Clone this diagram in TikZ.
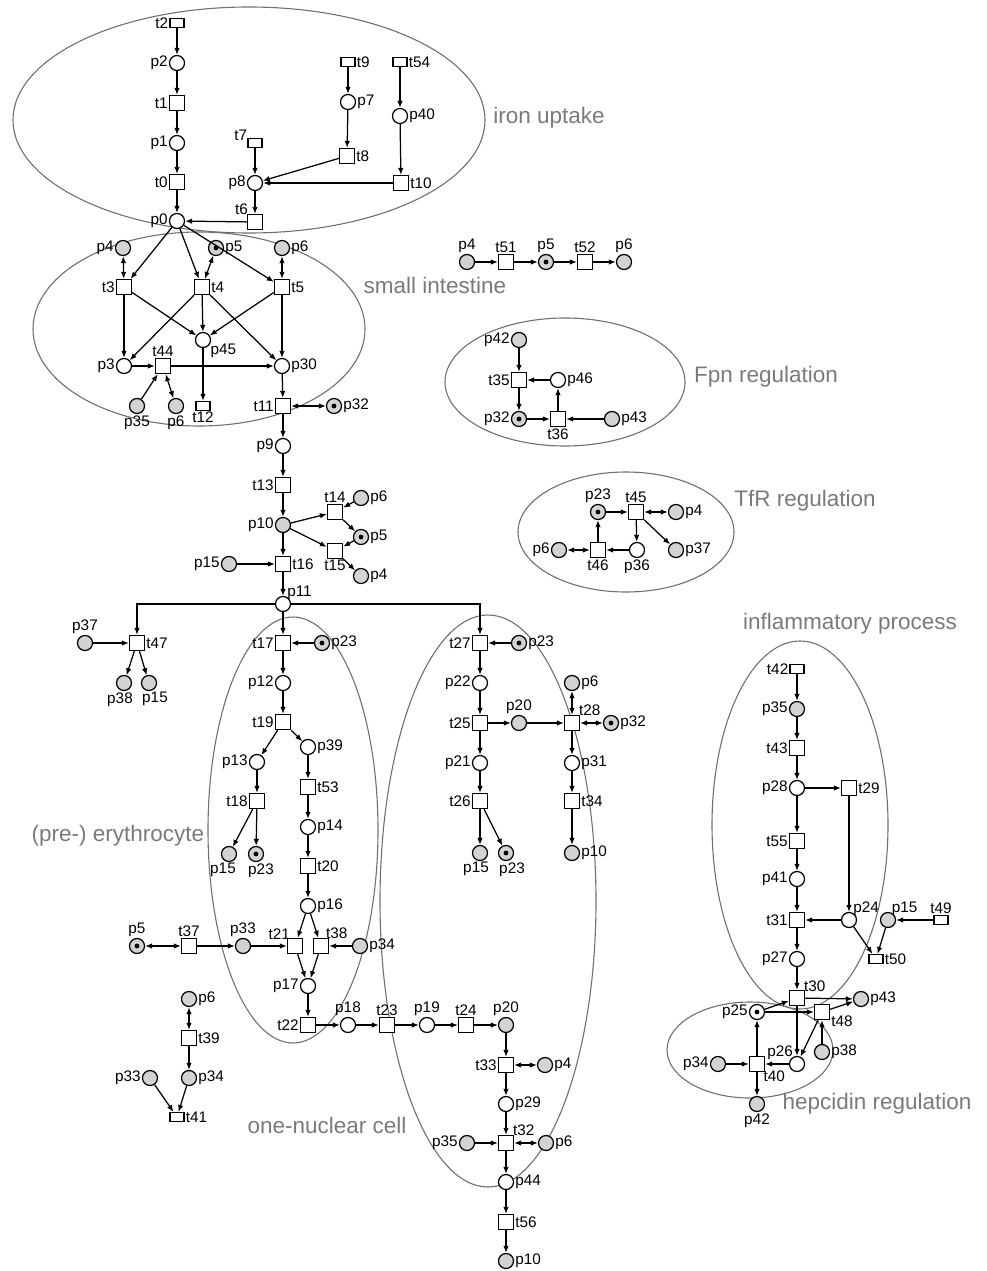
\documentclass[tikz,border=0pt]{standalone}
\usepackage{fontspec}
\setmainfont{Liberation Sans}
\usetikzlibrary{arrows.meta}
\definecolor{gfill}{HTML}{D3D3D3}
\definecolor{ellc}{HTML}{707070}
\definecolor{regc}{HTML}{7A7A7A}
\begin{document}
\begin{tikzpicture}[x=1pt,y=-1pt,
 every label/.style={font=\fontsize{15.3}{16}\selectfont, inner sep=1pt},
 label distance=0pt,
 pl/.style={circle,draw,line width=1.25pt,minimum size=15pt,inner sep=0pt,fill=white},
 gp/.style={pl,fill=gfill},
 mk/.style={gp,path picture={\fill[black] (path picture bounding box.center) circle[radius=2.4pt];}},
 mkw/.style={pl,path picture={\fill[black] (path picture bounding box.center) circle[radius=2.4pt];}},
 tr/.style={rectangle,draw,line width=1.25pt,minimum size=15pt,inner sep=0pt,fill=white},
 ft/.style={rectangle,draw,line width=1.1pt,minimum width=14pt,minimum height=9pt,inner sep=0pt,fill=white},
 arr/.style={line width=1.25pt,-{Latex[length=7pt,width=5.5pt]}},
 darr/.style={line width=1.25pt,{Latex[length=7pt,width=5.5pt]}-{Latex[length=7pt,width=5.5pt]}},
 ell/.style={draw=ellc,line width=1.1pt},
 reg/.style={text=regc,font=\fontsize{22.5}{24}\selectfont,inner sep=0pt}]
\useasboundingbox (0,0) rectangle (986,1271);

% ---------- region ellipses ----------
\draw[ell] (249,120) ellipse [x radius=236pt, y radius=113pt];
\draw[ell] (199,329) ellipse [x radius=166pt, y radius=97pt];
\draw[ell] (565,382) ellipse [x radius=120pt, y radius=64pt];
\draw[ell] (626,532) ellipse [x radius=108pt, y radius=60pt];
\draw[ell] (293,830) ellipse [x radius=85pt, y radius=213pt];
\draw[ell] (488,901) ellipse [x radius=108pt, y radius=286pt];
\draw[ell] (800,825) ellipse [x radius=88pt, y radius=184pt];
\draw[ell] (750,1050) ellipse [x radius=83pt, y radius=48pt];

% ---------- region labels ----------
\node[reg] (Liron) at (549,118) {iron uptake};
\node[reg] (Lsmall) at (435,285) {small intestine};
\node[reg] (Lfpn) at (766,377) {Fpn regulation};
\node[reg] (Ltfr) at (805,501) {TfR regulation};
\node[reg] (Linfl) at (850,624) {inflammatory process};
\node[reg] (Lery) at (118,836) {(pre-) erythrocyte};
\node[reg] (Lone) at (327,1125) {one-nuclear cell};
\node[reg] (Lhep) at (877,1104) {hepcidin regulation};

% ---------- iron uptake ----------
\node[ft,label=left:t2] (t2) at (177,23) {};
\node[pl,label=left:p2] (p2) at (177,63) {};
\node[tr,label=left:t1] (t1) at (177,103) {};
\node[pl,label=left:p1] (p1) at (177,143) {};
\node[tr,label=left:t0] (t0) at (177,182) {};
\node[pl,label=left:p0] (p0) at (177,221) {};
\node[ft,label=right:t9] (t9) at (348,62) {};
\node[pl,label=right:p7] (p7) at (348,102) {};
\node[tr,label=right:t8] (t8) at (347,156) {};
\node[ft,label=right:t54] (t54) at (400,62) {};
\node[pl,label=right:p40] (p40) at (400,116) {};
\node[tr,label=right:t10] (t10) at (401,183) {};
\node[ft,label={[label distance=-1pt]170:t7}] (t7) at (255,143) {};
\node[pl,label=left:p8] (p8) at (255,183) {};
\node[tr,label={[label distance=-3pt]135:t6}] (t6) at (255,222) {};

% ---------- small intestine ----------
\node[gp,label=left:p4] (p4a) at (123,248) {};
\node[mk,label=right:p5] (p5a) at (216,248) {};
\node[gp,label=right:p6] (p6a) at (282,248) {};
\node[tr,label=left:t3] (t3) at (124,287) {};
\node[tr,label=right:t4] (t4) at (202,287) {};
\node[tr,label=right:t5] (t5) at (282,287) {};
\node[pl,label={[label distance=-1pt]-25:p45}] (p45) at (203,340) {};
\node[pl,label=left:p3] (p3) at (124,366) {};
\node[tr,label=above:t44] (t44) at (163,366) {};
\node[pl,label=right:p30] (p30) at (282,366) {};
\node[gp,label=below:p35] (p35a) at (137,406) {};
\node[gp,label=below:p6] (p6b) at (176,406) {};
\node[ft,label=below:t12] (t12) at (203,406) {};
\node[tr,label=left:t11] (t11) at (283,406) {};
\node[mk,label=right:p32] (p32a) at (334,406) {};
\node[pl,label=left:p9] (p9) at (283,446) {};

% ---------- p4 t51 p5 t52 p6 ----------
\node[gp,label=above:p4] (p4e) at (467,262) {};
\node[tr,label=above:t51] (t51) at (506,262) {};
\node[mk,label=above:p5] (p5e) at (546,262) {};
\node[tr,label=above:t52] (t52) at (585,262) {};
\node[gp,label=above:p6] (p6g) at (624,262) {};

% ---------- Fpn ----------
\node[gp,label=left:p42] (p42a) at (519,340) {};
\node[tr,label=left:t35] (t35) at (519,380) {};
\node[pl,label=right:p46] (p46) at (558,380) {};
\node[mk,label=left:p32] (p32c) at (519,419) {};
\node[tr,label=below:t36] (t36) at (558,419) {};
\node[gp,label=right:p43] (p43a) at (612,419) {};

% ---------- TfR ----------
\node[mk,label=above:p23] (p23e) at (598,512) {};
\node[tr,label=above:t45] (t45) at (636,512) {};
\node[gp,label=right:p4] (p4f) at (676,512) {};
\node[gp,label=left:p6] (p6h) at (559,550) {};
\node[tr,label=below:t46] (t46) at (598,550) {};
\node[pl,label=below:p36] (p36) at (637,550) {};
\node[gp,label=right:p37] (p37b) at (676,550) {};

% ---------- main chain ----------
\node[tr,label=left:t13] (t13) at (283,485) {};
\node[gp,label=left:p10] (p10a) at (283,525) {};
\node[tr,label=above:t14] (t14) at (335,512) {};
\node[gp,label=right:p6] (p6c) at (361,498) {};
\node[mk,label=right:p5] (p5c) at (361,537) {};
\node[tr,label=below:t15] (t15) at (335,551) {};
\node[gp,label=right:p4] (p4c) at (361,576) {};
\node[tr,label=right:t16] (t16) at (283,564) {};
\node[gp,label=left:p15] (p15a) at (229,564) {};
\node[pl,label={[label distance=-4pt]40:p11}] (p11) at (283,604) {};

\node[tr,label=right:t47] (t47) at (137,643) {};
\node[gp,label=above:p37] (p37a) at (85,643) {};
\node[gp,label={[xshift=-4pt]below:p38}] (p38a) at (124,683) {};
\node[gp,label={[xshift=6pt]below:p15}] (p15d) at (149,683) {};

\node[tr,label=left:t17] (t17) at (283,643) {};
\node[mk,label=right:p23] (p23a) at (322,643) {};
\node[pl,label=left:p12] (p12) at (283,683) {};
\node[tr,label=left:t19] (t19) at (283,722) {};
\node[pl,label=left:p13] (p13) at (257,762) {};
\node[pl,label=right:p39] (p39) at (308,747) {};
\node[tr,label=left:t18] (t18) at (257,801) {};
\node[tr,label=right:t53] (t53) at (308,787) {};
\node[gp,label={[xshift=-6pt]below:p15}] (p15e) at (229,854) {};
\node[mk,label={[xshift=5pt]below:p23}] (p23b) at (256,854) {};
\node[pl,label=right:p14] (p14) at (308,827) {};
\node[tr,label=right:t20] (t20) at (308,866) {};
\node[pl,label=right:p16] (p16) at (308,906) {};
\node[tr,label={[label distance=-3pt]125:t21}] (t21) at (295,946) {};
\node[tr,label={[label distance=-3pt]55:t38}] (t38) at (321,946) {};
\node[gp,label=right:p34] (p34a) at (360,946) {};
\node[pl,label=left:p17] (p17) at (308,986) {};
\node[tr,label=left:t22] (t22) at (308,1025) {};
\node[pl,label=above:p18] (p18) at (348,1025) {};
\node[tr,label=above:t23] (t23) at (387,1025) {};
\node[pl,label=above:p19] (p19) at (427,1025) {};
\node[tr,label=above:t24] (t24) at (466,1025) {};
\node[gp,label=above:p20] (p20a) at (506,1025) {};
\node[tr,label=left:t33] (t33) at (506,1065) {};
\node[gp,label=right:p4] (p4d) at (545,1065) {};
\node[pl,label=right:p29] (p29) at (506,1104) {};
\node[tr,label={[label distance=-3pt]45:t32}] (t32) at (506,1143) {};
\node[gp,label=left:p35] (p35b) at (467,1143) {};
\node[gp,label=right:p6] (p6d) at (546,1143) {};
\node[pl,label=right:p44] (p44) at (506,1182) {};
\node[tr,label=right:t56] (t56) at (506,1222) {};
\node[gp,label=right:p10] (p10b) at (506,1261) {};

\node[mk,label=above:p5] (p5d) at (137,946) {};
\node[tr,label=above:t37] (t37) at (189,946) {};
\node[gp,label=above:p33] (p33a) at (243,946) {};
\node[gp,label=right:p6] (p6e) at (189,999) {};
\node[tr,label=right:t39] (t39) at (189,1038) {};
\node[gp,label=right:p34] (p34b) at (189,1078) {};
\node[gp,label=left:p33] (p33b) at (150,1078) {};
\node[ft,label=right:t41] (t41) at (177,1117) {};

% ---------- right column ----------
\node[tr,label=left:t27] (t27) at (480,643) {};
\node[mk,label=right:p23] (p23c) at (519,643) {};
\node[pl,label=left:p22] (p22) at (480,683) {};
\node[tr,label=left:t25] (t25) at (480,723) {};
\node[gp,label=above:p20] (p20b) at (519,723) {};
\node[tr,label={[label distance=-3pt]45:t28}] (t28) at (572,723) {};
\node[gp,label=right:p6] (p6f) at (572,683) {};
\node[mk,label=right:p32] (p32b) at (611,723) {};
\node[pl,label=left:p21] (p21) at (480,763) {};
\node[tr,label=left:t26] (t26) at (480,801) {};
\node[gp,label={[xshift=-4pt]below:p15}] (p15f) at (480,853) {};
\node[mk,label={[xshift=6pt]below:p23}] (p23d) at (506,853) {};
\node[pl,label=right:p31] (p31) at (572,763) {};
\node[tr,label=right:t34] (t34) at (572,801) {};
\node[gp,label=right:p10] (p10c) at (572,853) {};

% ---------- inflammatory / hepcidin ----------
\node[ft,label=left:t42] (t42) at (797,669) {};
\node[gp,label=left:p35] (p35c) at (797,709) {};
\node[tr,label=left:t43] (t43) at (797,748) {};
\node[pl,label=left:p28] (p28) at (797,788) {};
\node[tr,label=right:t29] (t29) at (849,788) {};
\node[tr,label=left:t55] (t55) at (797,841) {};
\node[pl,label=left:p41] (p41) at (797,879) {};
\node[tr,label=left:t31] (t31) at (797,920) {};
\node[pl,label={[label distance=-4pt]40:p24}] (p24) at (849,920) {};
\node[gp,label={[label distance=-4pt]50:p15}] (p15g) at (888,920) {};
\node[ft,label=above:t49] (t49) at (941,920) {};
\node[ft,label=right:t50] (t50) at (876,959) {};
\node[pl,label=left:p27] (p27) at (797,959) {};
\node[tr,label={[label distance=-3pt]40:t30}] (t30) at (797,998) {};
\node[gp,label=right:p43] (p43b) at (861,999) {};
\node[mkw,label=left:p25] (p25) at (757,1012) {};
\node[tr,label={[label distance=0pt]-20:t48}] (t48) at (822,1012) {};
\node[gp,label=right:p38] (p38b) at (822,1052) {};
\node[pl,label={[label distance=-4pt]135:p26}] (p26) at (797,1064) {};
\node[tr,label={[label distance=-4pt]-45:t40}] (t40) at (757,1064) {};
\node[gp,label=left:p34] (p34c) at (718,1064) {};
\node[gp,label=below:p42] (p42b) at (757,1104) {};

% ---------- arcs ----------
\foreach \u/\v in {t2/p2,p2/t1,t1/p1,p1/t0,t0/p0,t9/p7,p7/t8,t8/p8,t54/p40,p40/t10,t10/p8,t7/p8,p8/t6,t6/p0,
  p0/t3,p0/t4,p0/t5,t3/p3,t3/p45,t4/p3,t4/p45,t4/p30,t5/p45,t5/p30,p3/t44,t44/p30,p35a/t44,p45/t12,p30/t11,t11/p9,
  p4e/t51,t51/p5e,p5e/t52,t52/p6g,
  p42a/t35,p46/t35,t35/p32c,p32c/t36,p43a/t36,t36/p46,
  p23e/t45,t45/p36,t45/p37b,p36/t46,t46/p23e,
  p9/t13,t13/p10a,p10a/t14,p10a/t15,p6c/t14,t14/p5c,p5c/t15,t15/p4c,p10a/t16,p15a/t16,t16/p11,
  p11/t17,p37a/t47,t47/p38a,t47/p15d,
  p23a/t17,t17/p12,p12/t19,t19/p13,t19/p39,p13/t18,t18/p15e,t18/p23b,p39/t53,t53/p14,p14/t20,t20/p16,
  p16/t21,p16/t38,t21/p17,t38/p17,p33a/t21,p34a/t38,p17/t22,t22/p18,p18/t23,t23/p19,p19/t24,t24/p20a,
  p20a/t33,t33/p29,p29/t32,p35b/t32,t32/p44,p44/t56,t56/p10b,
  t37/p33a,t39/p34b,p34b/t41,p33b/t41,
  p23c/t27,t27/p22,p22/t25,t25/p20b,p20b/t28,t25/p21,p21/t26,t26/p15f,t26/p23d,t28/p31,p31/t34,t34/p10c,
  t42/p35c,p35c/t43,t43/p28,p28/t29,p28/t55,t29/p24,t55/p41,p41/t31,p24/t31,p24/t50,p15g/t50,t49/p15g,
  t31/p27,p27/t30,t30/p43b,t48/p43b,p25/t30,p25/t48,t30/p26,t48/p26,p38b/t48,p26/t40,p34c/t40,t40/p25,t40/p42b}
  \draw[arr] (\u) -- (\v);
\foreach \u/\v in {p4a/t3,p5a/t4,p6a/t5,t44/p6b,t11/p32a,t45/p4f,t46/p6h,t33/p4d,t32/p6d,p5d/t37,p6e/t39,t28/p6f,t28/p32b}
  \draw[darr] (\u) -- (\v);
\draw[arr] (p11) -| (t47);
\draw[arr] (p11) -| (t27);
\end{tikzpicture}
\end{document}
